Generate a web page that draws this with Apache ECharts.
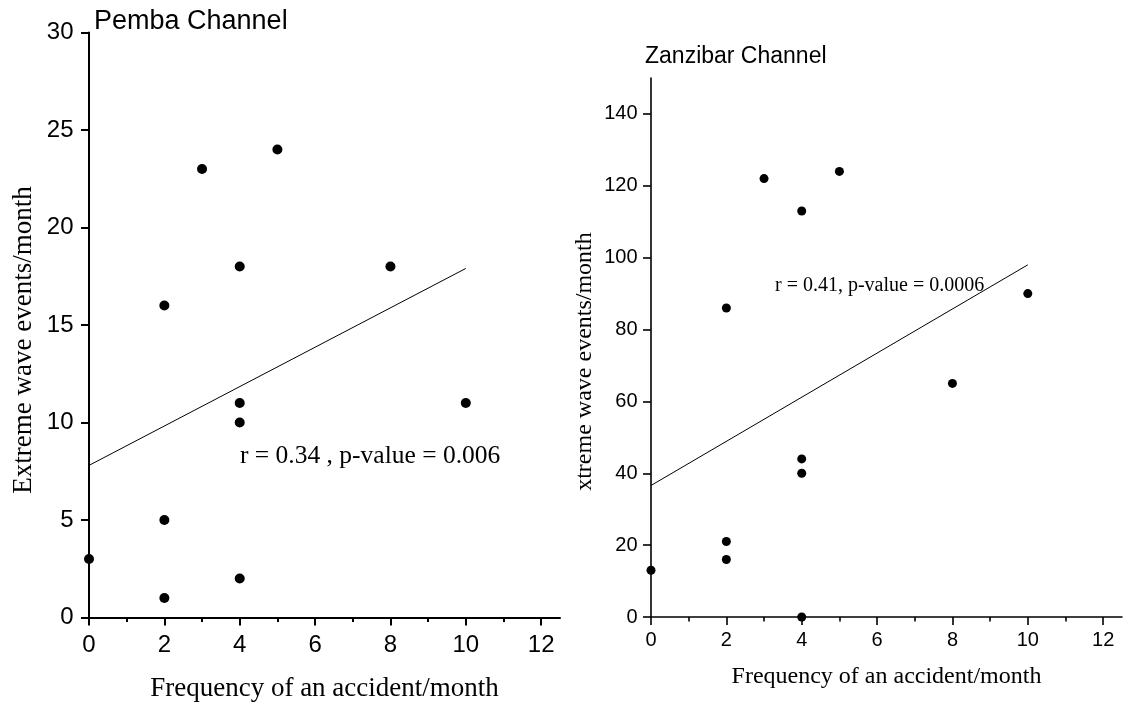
<!DOCTYPE html>
<html>
<head>
<meta charset="utf-8">
<script src="https://cdn.jsdelivr.net/npm/echarts@6/dist/echarts.min.js"></script>
<style>
html,body{margin:0;padding:0;background:#fff;}
#chart{width:1130px;height:703px;}
</style>
</head>
<body>
<div id="chart"></div>
<script>
// ---- data ----
var pembaX = [0, 2, 2, 2, 3, 4, 4, 4, 4, 5, 8, 10];
var pembaY = [3, 1, 5, 16, 23, 2, 10, 11, 18, 24, 18, 11];
var pembaFitX = [0, 10];
var pembaFitY = [7.8, 17.9];

var zanzX = [0, 2, 2, 2, 3, 4, 4, 4, 4, 5, 8, 10];
var zanzY = [13, 16, 21, 86, 122, 0, 40, 44, 113, 124, 65, 90];
var zanzFitX = [0, 10];
var zanzFitY = [36.6, 98.0];

var xMajorTicks = [0, 2, 4, 6, 8, 10, 12];
var xMinorTicks = [1, 3, 5, 7, 9, 11];
var pembaYTicks = [0, 5, 10, 15, 20, 25, 30];
var zanzYTicks = [0, 20, 40, 60, 80, 100, 120, 140];

var titles = ['Pemba Channel', 'Zanzibar Channel'];
var xTitle = 'Frequency of an accident/month';
var yTitles = ['Extreme wave events/month', 'xtreme wave events/month'];
var notes = ['r = 0.34 , p-value = 0.006', 'r = 0.41, p-value = 0.0006'];

function pairs(xs, ys) { return xs.map(function (x, i) { return [x, ys[i]]; }); }

var SANS = 'Liberation Sans, Arial, sans-serif';
var SERIF = 'Liberation Serif, Times New Roman, serif';

function xMain(gi, lw, fs, margin, nameSize, nameGap) {
  return {
    type: 'value', gridIndex: gi, min: 0, max: 12.5, interval: 2, position: 'bottom',
    axisLine: { show: true, onZero: false, lineStyle: { color: '#000', width: lw } },
    axisTick: { show: true, length: 8, customValues: xMajorTicks, lineStyle: { color: '#000', width: lw } },
    axisLabel: { show: true, customValues: xMajorTicks, margin: margin, color: '#000', fontFamily: SANS, fontSize: fs },
    splitLine: { show: false },
    name: xTitle, nameLocation: 'middle', nameGap: nameGap,
    nameTextStyle: { color: '#000', fontFamily: SERIF, fontSize: nameSize }
  };
}
function xMinor(gi, lw) {
  return {
    type: 'value', gridIndex: gi, min: 0, max: 12.5, interval: 2, position: 'bottom',
    axisLine: { show: false, onZero: false },
    axisTick: { show: true, length: 4.5, customValues: xMinorTicks, lineStyle: { color: '#000', width: lw } },
    axisLabel: { show: false },
    splitLine: { show: false }
  };
}
function yAxis(gi, max, ticks, lw, fs, margin, name, nameSize, nameGap, shift) {
  return {
    type: 'value', gridIndex: gi, min: 0, max: max, interval: ticks[1] - ticks[0],
    axisLine: { show: true, onZero: false, lineStyle: { color: '#000', width: lw } },
    axisTick: { show: true, length: 8, customValues: ticks, lineStyle: { color: '#000', width: lw } },
    axisLabel: { show: true, customValues: ticks, margin: margin, color: '#000', fontFamily: SANS, fontSize: fs },
    splitLine: { show: false },
    name: name, nameLocation: 'middle', nameGap: nameGap,
    nameTextStyle: { color: '#000', fontFamily: SERIF, fontSize: nameSize, padding: [0, shift, 0, 0] }
  };
}

var chart = echarts.init(document.getElementById('chart'), null, { renderer: 'canvas' });
chart.setOption({
  animation: false,
  backgroundColor: '#fff',
  title: [
    { text: titles[0], left: 94, top: 8, padding: 0,
      textStyle: { color: '#000', fontFamily: SANS, fontSize: 27, fontWeight: 'normal' } },
    { text: titles[1], left: 645, top: 45, padding: 0,
      textStyle: { color: '#000', fontFamily: SANS, fontSize: 23, fontWeight: 'normal' } }
  ],
  grid: [
    { left: 89, top: 32.5, width: 471, height: 585, containLabel: false, outerBoundsMode: 'none' },
    { left: 651, top: 78, width: 471, height: 539, containLabel: false, outerBoundsMode: 'none' }
  ],
  xAxis: [
    xMain(0, 2, 24, 15.5, 27, 57.5),
    xMinor(0, 2),
    xMain(1, 1.6, 20, 13.5, 24, 48),
    xMinor(1, 1.6)
  ],
  yAxis: [
    yAxis(0, 30, pembaYTicks, 2, 24, 15.5, yTitles[0], 27, 51.5, 30),
    yAxis(1, 150, zanzYTicks, 1.6, 20, 13.5, yTitles[1], 24, 54, 28)
  ],
  graphic: [
    { type: 'text', left: 240, top: 443, silent: true,
      style: { text: notes[0], fill: '#000', font: '25.5px ' + SERIF } },
    { type: 'text', left: 775, top: 276, silent: true,
      style: { text: notes[1], fill: '#000', font: '20px ' + SERIF } }
  ],
  series: [
    { type: 'scatter', xAxisIndex: 0, yAxisIndex: 0, data: pairs(pembaX, pembaY),
      symbol: 'circle', symbolSize: 10, itemStyle: { color: '#000', opacity: 1 }, z: 3 },
    { type: 'line', xAxisIndex: 0, yAxisIndex: 0, data: pairs(pembaFitX, pembaFitY),
      showSymbol: false, symbol: 'none', lineStyle: { color: '#000', width: 1 }, z: 2 },
    { type: 'scatter', xAxisIndex: 2, yAxisIndex: 1, data: pairs(zanzX, zanzY),
      symbol: 'circle', symbolSize: 9, itemStyle: { color: '#000', opacity: 1 }, z: 3 },
    { type: 'line', xAxisIndex: 2, yAxisIndex: 1, data: pairs(zanzFitX, zanzFitY),
      showSymbol: false, symbol: 'none', lineStyle: { color: '#000', width: 1 }, z: 2 }
  ]
});
</script>
</body>
</html>
